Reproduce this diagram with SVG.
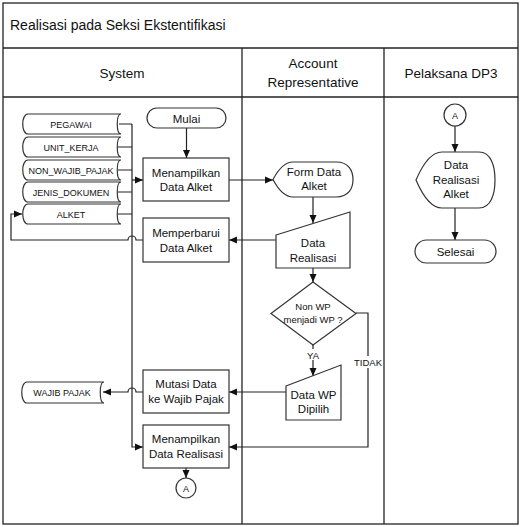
<svg xmlns="http://www.w3.org/2000/svg" width="521" height="527" viewBox="0 0 521 527">
<defs>
<marker id="arr" markerUnits="userSpaceOnUse" markerWidth="8" markerHeight="8" refX="8" refY="4" orient="auto">
<path d="M0,0.5 L8,4 L0,7.5 z" fill="#111"/>
</marker>
<style>
text{font-family:"Liberation Sans",Arial,sans-serif;fill:#111;text-anchor:middle}
.frame{fill:none;stroke:#222;stroke-width:1.3}
.shape{fill:#fff;stroke:#333;stroke-width:1.2}
.conn{fill:none;stroke:#222;stroke-width:1.2}
.arrow{marker-end:url(#arr)}
.t{font-size:11.5px}
.h{font-size:13.5px}
.s{font-size:9px}
.d{font-size:9.5px}
</style>
</defs>
<rect x="0" y="0" width="521" height="527" fill="#fff"/>
<g id="frame">
<rect class="frame" x="3" y="3" width="515" height="521"/>
<line class="frame" x1="3" y1="48" x2="518" y2="48"/>
<line class="frame" x1="3" y1="97" x2="518" y2="97"/>
<line class="frame" x1="242" y1="48" x2="242" y2="524"/>
<line class="frame" x1="384" y1="48" x2="384" y2="524"/>
<text x="10" y="30" style="font-size:14px;text-anchor:start">Realisasi pada Seksi Ekstentifikasi</text>
<text class="h" x="122" y="78">System</text>
<text class="h" x="313" y="68">Account</text>
<text class="h" x="313" y="87">Representative</text>
<text class="h" x="451" y="78">Pelaksana DP3</text>
</g>
<g id="connectors">
<path class="conn arrow" d="M186.5,128 L186.5,158"/>
<path class="conn" d="M119,124 L132,124 M118,147 L132,147 M118,170 L132,170 M118,192 L132,192 M118,214 L132,214"/>
<path class="conn arrow" d="M132,124 L132,447 L143,447"/>
<path class="conn arrow" d="M132,180 L143,180"/>
<path class="conn arrow" d="M229,180 L273,180"/>
<path class="conn arrow" d="M313,197 L313,223"/>
<path class="conn arrow" d="M276,240 L229,240"/>
<path class="conn arrow" d="M143,240 L136,240 A4,4 0 0 0 128,240 L11,240 L11,214 L22,214"/>
<path class="conn arrow" d="M313,268 L313,282"/>
<path class="conn arrow" d="M313,345 L313,376"/>
<path class="conn arrow" d="M356,313 L368,313 L368,447 L229,447"/>
<path class="conn arrow" d="M286,392 L229,392"/>
<path class="conn arrow" d="M143,392 L136,392 A4,4 0 0 0 128,392 L103,392"/>
<path class="conn arrow" d="M186,468 L186,478"/>
<path class="conn arrow" d="M455,126 L455,152"/>
<path class="conn arrow" d="M455,208 L455,240"/>
<rect x="305" y="349" width="16" height="11" fill="#fff"/>
<text class="d" x="313" y="359">YA</text>
<rect x="354" y="356" width="28" height="12" fill="#fff"/>
<text class="d" x="368" y="366">TIDAK</text>
</g>
<g id="store-pegawai">
<path class="shape" d="M28,114 L121,114 C116,114 116,134 121,134 L28,134 C21,134 21,114 28,114 Z"/>
<text class="s" x="71" y="127.5">PEGAWAI</text>
</g>
<g id="store-unit-kerja">
<path class="shape" d="M28,137 L121,137 C116,137 116,157 121,157 L28,157 C21,157 21,137 28,137 Z"/>
<text class="s" x="71" y="150.5">UNIT_KERJA</text>
</g>
<g id="store-non-wajib-pajak">
<path class="shape" d="M28,160 L121,160 C116,160 116,180 121,180 L28,180 C21,180 21,160 28,160 Z"/>
<text class="s" x="71" y="173.5">NON_WAJIB_PAJAK</text>
</g>
<g id="store-jenis-dokumen">
<path class="shape" d="M28,182 L121,182 C116,182 116,202 121,202 L28,202 C21,202 21,182 28,182 Z"/>
<text class="s" x="71" y="195.5">JENIS_DOKUMEN</text>
</g>
<g id="store-alket">
<path class="shape" d="M28,204 L121,204 C116,204 116,224 121,224 L28,224 C21,224 21,204 28,204 Z"/>
<text class="s" x="71" y="217.5">ALKET</text>
</g>
<g id="store-wajib-pajak">
<path class="shape" d="M27,382 L104,382 C99,382 99,403 104,403 L27,403 C20,403 20,382 27,382 Z"/>
<text class="s" x="62" y="395.5">WAJIB PAJAK</text>
</g>
<g id="mulai">
<rect class="shape" x="147" y="108" width="79" height="20" rx="10"/>
<text class="t" x="186.5" y="122.5">Mulai</text>
</g>
<g id="menampilkan-data-alket">
<rect class="shape" x="143" y="158" width="86" height="43"/>
<text class="t" x="186" y="176.5">Menampilkan</text>
<text class="t" x="186" y="190.5">Data Alket</text>
</g>
<g id="memperbarui-data-alket">
<rect class="shape" x="143" y="218" width="86" height="44"/>
<text class="t" x="186" y="236.5">Memperbarui</text>
<text class="t" x="186" y="251.5">Data Alket</text>
</g>
<g id="mutasi-data">
<rect class="shape" x="143" y="370" width="86" height="43"/>
<text class="t" x="186" y="387.5">Mutasi Data</text>
<text class="t" x="186" y="402.5">ke Wajib Pajak</text>
</g>
<g id="menampilkan-data-realisasi">
<rect class="shape" x="143" y="425" width="86" height="43"/>
<text class="t" x="186" y="443">Menampilkan</text>
<text class="t" x="186" y="458">Data Realisasi</text>
</g>
<g id="connector-a-left">
<circle class="shape" cx="186" cy="488" r="10"/>
<text class="s" x="186" y="491.5">A</text>
</g>
<g id="form-data-alket">
<path class="shape" d="M273,179.5 C278,170 284,162 293,162 L336,162 C349,162 353,171 353,179.5 C353,188 349,197 336,197 L293,197 C284,197 278,189 273,179.5 Z"/>
<text class="t" x="314" y="176">Form Data</text>
<text class="t" x="314" y="190">Alket</text>
</g>
<g id="data-realisasi">
<path class="shape" d="M276,235 L350,212 L350,268 L276,268 Z"/>
<text class="t" x="313" y="247">Data</text>
<text class="t" x="313" y="262">Realisasi</text>
</g>
<g id="keputusan">
<path class="shape" d="M313,282 L356,313.5 L313,345 L271,313.5 Z"/>
<text class="d" x="313" y="310">Non WP</text>
<text class="d" x="313" y="323">menjadi WP ?</text>
</g>
<g id="data-wp-dipilih">
<path class="shape" d="M286,386 L341,365 L341,420 L286,420 Z"/>
<text class="t" x="313.5" y="399">Data WP</text>
<text class="t" x="313.5" y="413">Dipilih</text>
</g>
<g id="connector-a-right">
<circle class="shape" cx="455" cy="115" r="11"/>
<text class="s" x="455" y="118.5">A</text>
</g>
<g id="data-realisasi-alket">
<path class="shape" d="M416,180 C422,166 430,152 442,152 L479,152 C491,152 495,166 495,180 C495,194 491,208 479,208 L442,208 C430,208 422,194 416,180 Z"/>
<text class="t" x="456" y="169">Data</text>
<text class="t" x="456" y="183.5">Realisasi</text>
<text class="t" x="456" y="198">Alket</text>
</g>
<g id="selesai">
<rect class="shape" x="415" y="240" width="81" height="23" rx="11.5"/>
<text class="t" x="455.5" y="255.5">Selesai</text>
</g>
</svg>
